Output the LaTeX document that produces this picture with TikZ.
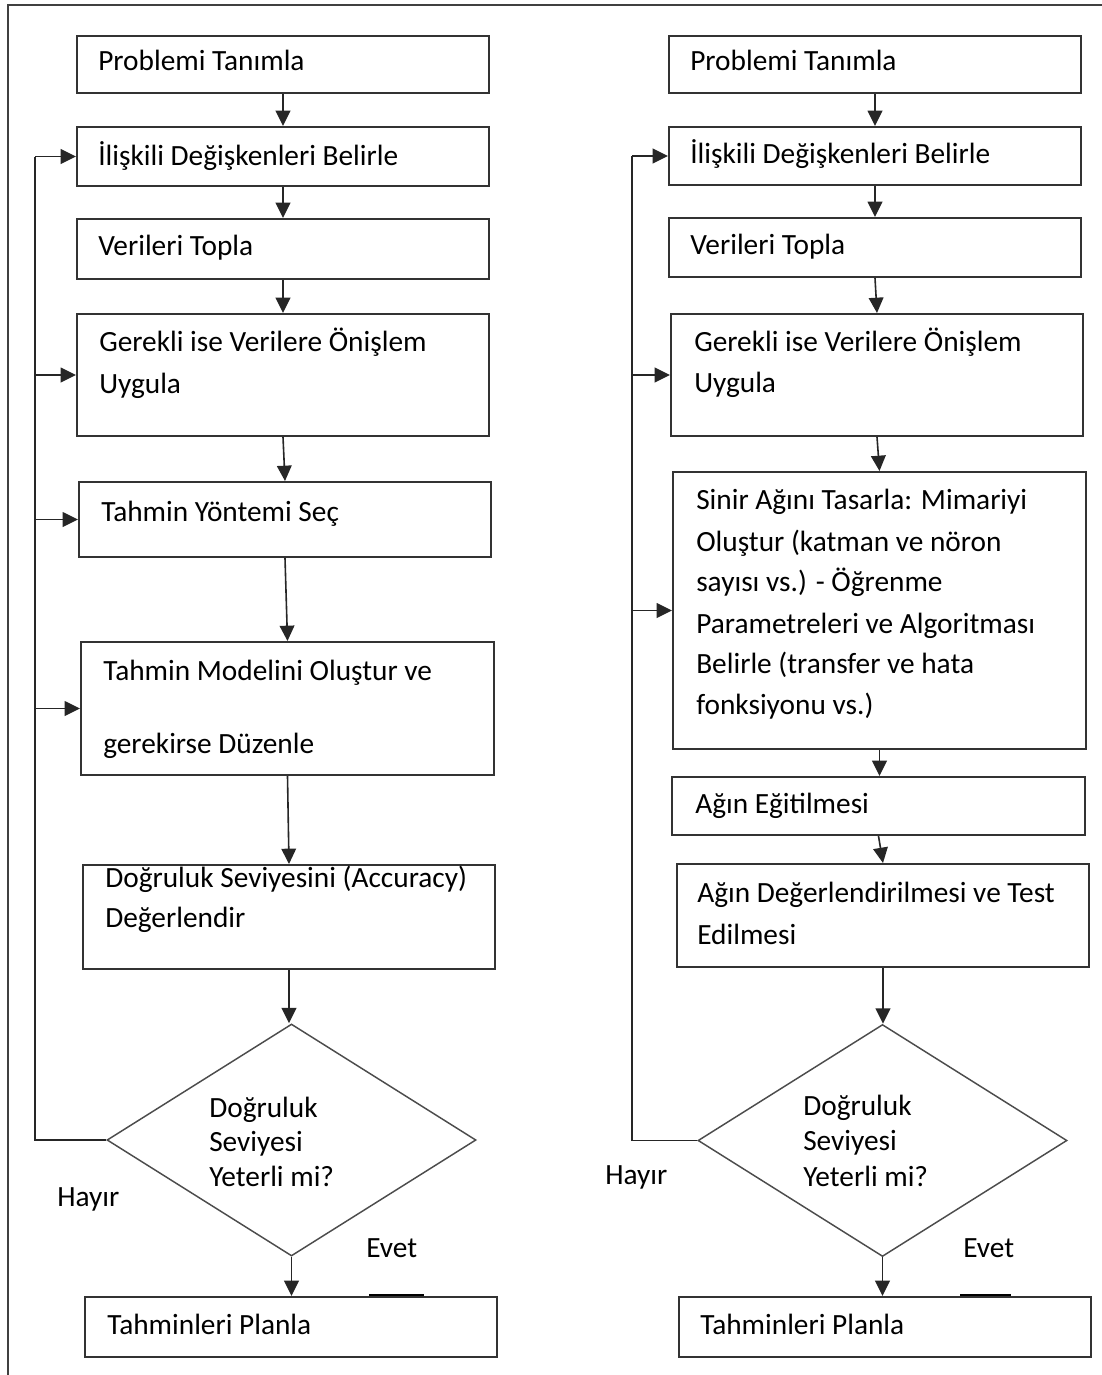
\documentclass[tikz,border=0pt]{standalone}
\usepackage{fontspec}
\setmainfont{Carlito}
\usetikzlibrary{arrows.meta,shapes.geometric,fit}

\tikzset{
  box/.style={draw=black!80, line width=1.5pt, inner sep=0pt, fit={#1}},
  decision/.style={diamond, draw=black!70, line width=1.1pt, inner sep=0pt,
    minimum width=276.75pt, minimum height=174pt},
  link/.style={draw=black!85, line width=1.2pt},
  arr/.style={link, -{Triangle[length=11.5pt,width=11pt]}},
  frame/.style={draw=black!75, line width=1.5pt},
  bar/.style={draw=black, line width=2pt},
  txt/.style={anchor=base west, inner sep=0pt, text=black,
    font=\fontsize{22}{26}\selectfont},
}

\begin{document}
\begin{tikzpicture}[x=0.75pt,y=-0.75pt]
\useasboundingbox (0,0) rectangle (1102,1375);

% outer frame (top and left edges)
\draw[frame] (8,1375) -- (8,5) -- (1102,5);

% ---------------- left flow: classical forecasting ----------------
\node[box={(77,36) (489,93)}]   (b1) {};
\node[box={(77,127) (489,186)}] (b2) {};
\node[box={(77,219) (489,279)}] (b3) {};
\node[box={(77,314) (489,436)}] (b4) {};
\node[box={(79,482) (491,557)}] (b5) {};
\node[box={(81,642) (494,775)}] (b6) {};
\node[box={(83,865) (495,969)}] (b7) {};
\node[decision] (d1) at (291.5,1140) {};
\node[box={(85,1297) (497,1357)}] (b8) {};

\node[txt] (t1)  at (98,70)   {Problemi Tanımla};
\node[txt] (t2)  at (98,165)  {İlişkili Değişkenleri Belirle};
\node[txt] (t3)  at (98,255)  {Verileri Topla};
\node[txt] (t4a) at (99,351)  {Gerekli ise Verilere Önişlem};
\node[txt] (t4b) at (99,393)  {Uygula};
\node[txt] (t5)  at (101,521) {Tahmin Yöntemi Seç};
\node[txt] (t6a) at (103,680) {Tahmin Modelini Oluştur ve};
\node[txt] (t6b) at (103,753) {gerekirse Düzenle};
\node[txt] (t7a) at (105,887) {Doğruluk Seviyesini (Accuracy)};
\node[txt] (t7b) at (105,927) {Değerlendir};
\node[txt] (q1a) at (209,1117) {Doğruluk};
\node[txt] (q1b) at (209,1151) {Seviyesi};
\node[txt] (q1c) at (209,1186) {Yeterli mi?};
\node[txt] (no1) at (57,1206)  {Hayır};
\node[txt] (ye1) at (366,1257) {Evet};
\node[txt] (t8)  at (107,1334) {Tahminleri Planla};

\draw[arr] (b1.south) -- (b1.south |- b2.north);
\draw[arr] (b2.south) -- (b2.south |- b3.north);
\draw[arr] (b3.south) -- (b3.south |- b4.north);
\draw[arr] (b4.south) -- (b5.north);
\draw[arr] (b5.south) -- (b6.north);
\draw[arr] (b6.south) -- (b7.north);
\draw[arr] (b7.south) -- (b7.south |- d1.north);
\draw[arr] (d1.south) -- (d1.south |- b8.north);

% feedback loop when accuracy is not sufficient
\coordinate (lpL) at (35,1140);
\draw[link] (d1.west) -- (lpL) -- (lpL |- b2.west);
\draw[arr] (lpL |- b2.west) -- (b2.west);
\draw[arr] (lpL |- b4.west) -- (b4.west);
\draw[arr] (lpL |- b5.west) -- (b5.west);
\draw[arr] (lpL |- b6.west) -- (b6.west);

\draw[bar] (369,1295) -- (424,1295);

% ---------------- right flow: neural network ----------------
\node[box={(669,36) (1081,93)}]   (r1) {};
\node[box={(669,127) (1081,185)}] (r2) {};
\node[box={(669,218) (1081,277)}] (r3) {};
\node[box={(671,314) (1083,436)}] (r4) {};
\node[box={(673,472) (1086,749)}] (r5) {};
\node[box={(672,777) (1085,835)}] (r6) {};
\node[box={(677,864) (1089,967)}] (r7) {};
\node[decision] (d2) at (882.5,1140.5) {};
\node[box={(679,1297) (1091,1357)}] (r8) {};

\node[txt] (s1)  at (690,70)   {Problemi Tanımla};
\node[txt] (s2)  at (690,163)  {İlişkili Değişkenleri Belirle};
\node[txt] (s3)  at (690,254)  {Verileri Topla};
\node[txt] (s4a) at (694,351)  {Gerekli ise Verilere Önişlem};
\node[txt] (s4b) at (694,392)  {Uygula};
\node[txt] (s5a) at (696,509)  {Sinir Ağını Tasarla: Mimariyi};
\node[txt] (s5b) at (696,551)  {Oluştur (katman ve nöron};
\node[txt] (s5c) at (696,591)  {sayısı vs.) - Öğrenme};
\node[txt] (s5d) at (696,633)  {Parametreleri ve Algoritması};
\node[txt] (s5e) at (696,673)  {Belirle (transfer ve hata};
\node[txt] (s5f) at (696,714)  {fonksiyonu vs.)};
\node[txt] (s6)  at (695,813)  {Ağın Eğitilmesi};
\node[txt] (s7a) at (697,902)  {Ağın Değerlendirilmesi ve Test};
\node[txt] (s7b) at (697,944)  {Edilmesi};
\node[txt] (q2a) at (803,1115) {Doğruluk};
\node[txt] (q2b) at (803,1150) {Seviyesi};
\node[txt] (q2c) at (803,1186) {Yeterli mi?};
\node[txt] (no2) at (605,1184) {Hayır};
\node[txt] (ye2) at (963,1257) {Evet};
\node[txt] (s8)  at (700,1334) {Tahminleri Planla};

\draw[arr] (r1.south) -- (r1.south |- r2.north);
\draw[arr] (r2.south) -- (r2.south |- r3.north);
\draw[arr] (r3.south) -- (r4.north);
\draw[arr] (r4.south) -- (r5.north);
\draw[arr] (r5.south) -- (r5.south |- r6.north);
\draw[arr] (r6.south) -- (r7.north);
\draw[arr] (r7.south) -- (r7.south |- d2.north);
\draw[arr] (d2.south) -- (d2.south |- r8.north);

% feedback loop of the network design
\coordinate (lpR) at (632,1140.5);
\draw[link] (d2.west) -- (lpR) -- (lpR |- r2.west);
\draw[arr] (lpR |- r2.west) -- (r2.west);
\draw[arr] (lpR |- r4.west) -- (r4.west);
\draw[arr] (lpR |- r5.west) -- (r5.west);

\draw[bar] (960,1295) -- (1011,1295);
\end{tikzpicture}
\end{document}
